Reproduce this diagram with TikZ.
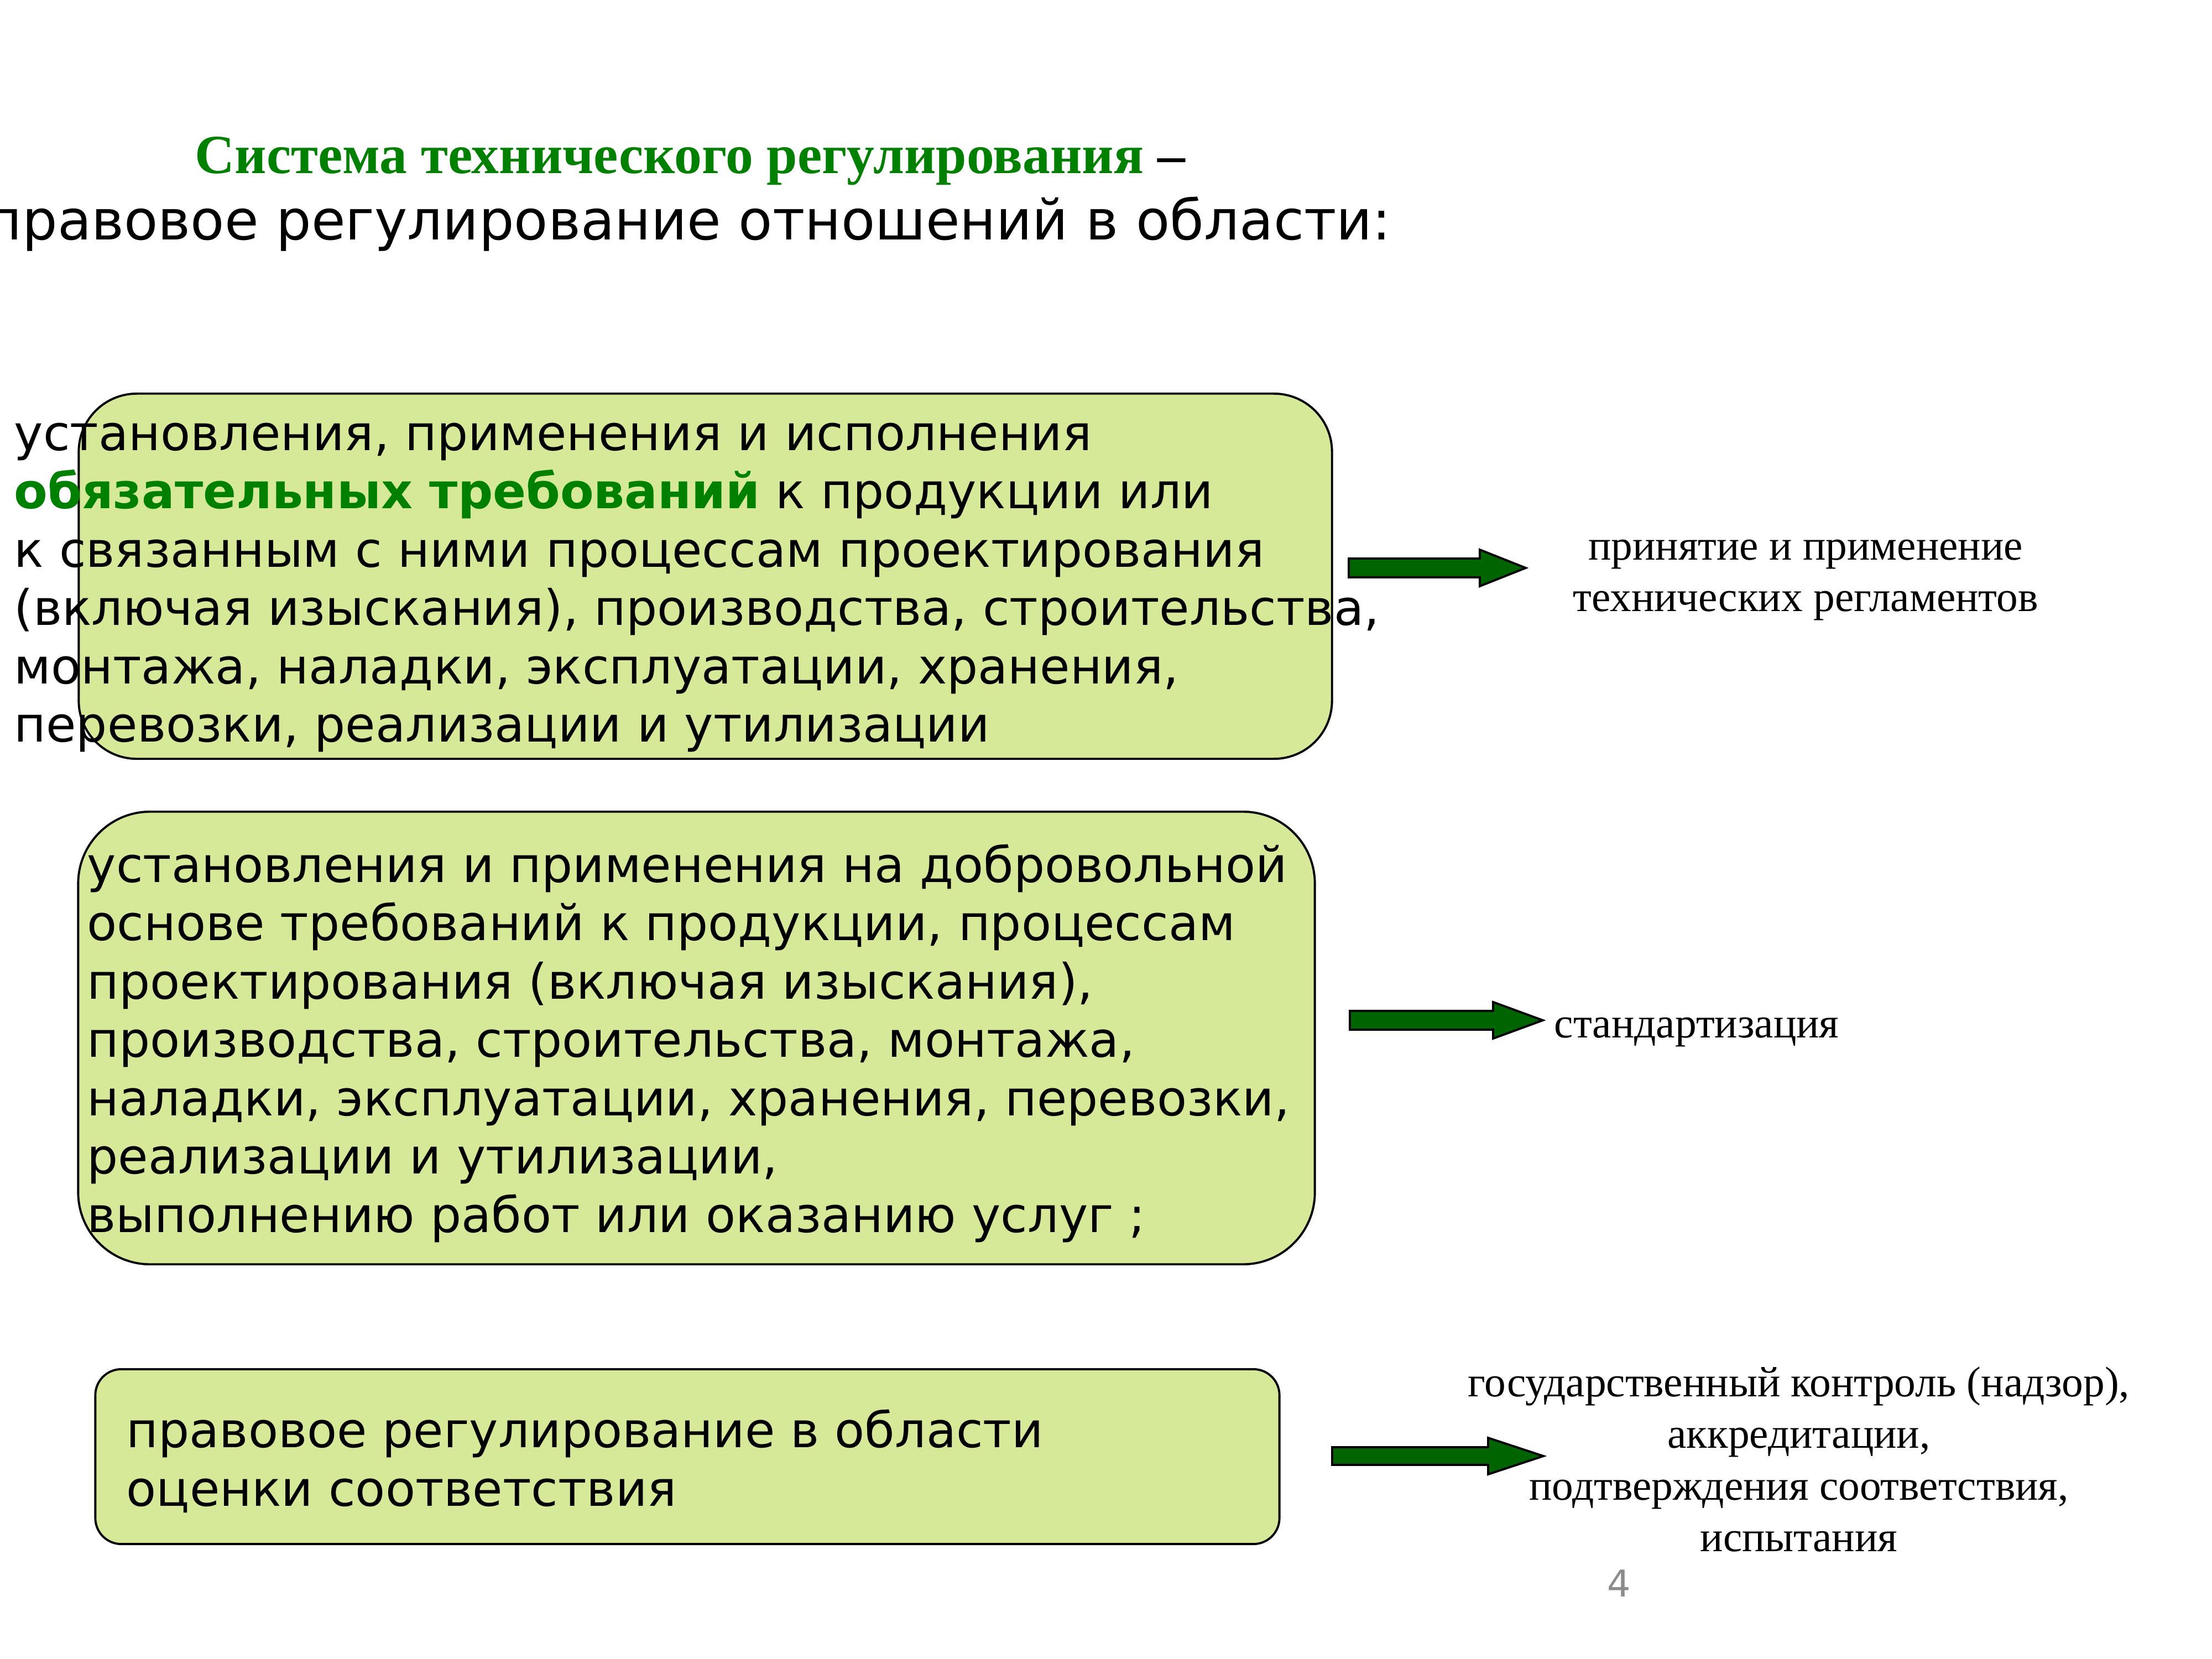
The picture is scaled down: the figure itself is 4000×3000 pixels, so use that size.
\documentclass[tikz,border=0pt]{standalone}
\usepackage{fontspec}
\setmainfont{Liberation Serif}
\newfontfamily\dv{DejaVu Sans}
\definecolor{boxfill}{RGB}{213,233,152}
\definecolor{ttlgreen}{RGB}{0,128,0}
\definecolor{arrgreen}{RGB}{0,100,0}
\definecolor{pggrey}{RGB}{140,140,140}
\begin{document}
\begin{tikzpicture}[x=0.01cm,y=-0.01cm,
  greenbox/.style={draw=black,line width=1.1pt,fill=boxfill,inner sep=0pt},
  boxtxt/.style={anchor=base west,inner sep=0pt,font=\dv\fontsize{25.15}{30}\selectfont},
  sidetxt/.style={anchor=base,inner sep=0pt,font=\fontsize{22}{26}\selectfont},
  blockarrow/.style={draw=black,line width=1.1pt,fill=arrgreen,line join=miter}]
\useasboundingbox (0,0) rectangle (4000,3000);

% title
\node[anchor=base west,inner sep=0pt,font=\bfseries\fontsize{28.35}{34}\selectfont,text=ttlgreen] (t1) at (352,313)
  {Система технического регулирования \textcolor{black}{–}};
\node[anchor=base east,inner sep=0pt,font=\dv\fontsize{28.5}{33}\selectfont] (t2) at (2516,433)
  {правовое регулирование отношений в области:};

% boxes
\node[greenbox,rounded corners=1.05cm,minimum width=22.65cm,minimum height=6.6cm] (b1) at (1275.5,1042) {};
\node[greenbox,rounded corners=1.3cm,minimum width=22.35cm,minimum height=8.18cm] (b2) at (1259.5,1877) {};
\node[greenbox,rounded corners=0.47cm,minimum width=21.4cm,minimum height=3.16cm] (b3) at (1243,2634) {};

% box 1 text
\node[boxtxt] (b1l1) at (25,814)    {установления, применения и исполнения};
\node[boxtxt] (b1l2) at (25,919.5)  {\textcolor{ttlgreen}{\bfseries обязательных требований} к продукции или};
\node[boxtxt] (b1l3) at (25,1025)   {к связанным с ними процессам проектирования};
\node[boxtxt] (b1l4) at (25,1130.5) {(включая изыскания), производства, строительства,};
\node[boxtxt] (b1l5) at (25,1236)   {монтажа, наладки, эксплуатации, хранения,};
\node[boxtxt] (b1l6) at (25,1341.5) {перевозки, реализации и утилизации};

% box 2 text
\node[boxtxt] (b2l1) at (157,1595)   {установления и применения на добровольной};
\node[boxtxt] (b2l2) at (157,1700.5) {основе требований к продукции, процессам};
\node[boxtxt] (b2l3) at (157,1806)   {проектирования (включая изыскания),};
\node[boxtxt] (b2l4) at (157,1911.5) {производства, строительства, монтажа,};
\node[boxtxt] (b2l5) at (157,2017)   {наладки, эксплуатации, хранения, перевозки,};
\node[boxtxt] (b2l6) at (157,2122.5) {реализации и утилизации,};
\node[boxtxt] (b2l7) at (157,2228)   {выполнению работ или оказанию услуг ;};

% box 3 text
\node[boxtxt] (b3l1) at (228,2617) {правовое регулирование в области};
\node[boxtxt] (b3l2) at (228,2723) {оценки соответствия};

% right texts
\node[sidetxt] (r1a) at (3265,1012) {принятие и применение};
\node[sidetxt] (r1b) at (3265,1105) {технических регламентов};
\node[sidetxt] (r2)  at (3068,1876) {стандартизация};
\node[sidetxt] (r3a) at (3253,2525) {государственный контроль (надзор),};
\node[sidetxt] (r3b) at (3253,2618) {аккредитации,};
\node[sidetxt] (r3c) at (3253,2712) {подтверждения соответствия,};
\node[sidetxt] (r3d) at (3253,2805) {испытания};

% block arrows
\draw[blockarrow] (2439,1010) -- (2676,1010) -- (2676,994) -- (2759,1027) -- (2676,1060) -- (2676,1044) -- (2439,1044) -- cycle;
\draw[blockarrow] (2441,1828) -- (2700,1828) -- (2700,1812) -- (2790,1845) -- (2700,1878) -- (2700,1862) -- (2441,1862) -- cycle;
\draw[blockarrow] (2409,2617) -- (2691,2617) -- (2691,2600) -- (2791,2633) -- (2691,2666) -- (2691,2649) -- (2409,2649) -- cycle;

% page number
\node[anchor=base,inner sep=0pt,font=\dv\fontsize{19}{22}\selectfont,text=pggrey] (pg) at (2928,2887) {4};
\end{tikzpicture}
\end{document}
